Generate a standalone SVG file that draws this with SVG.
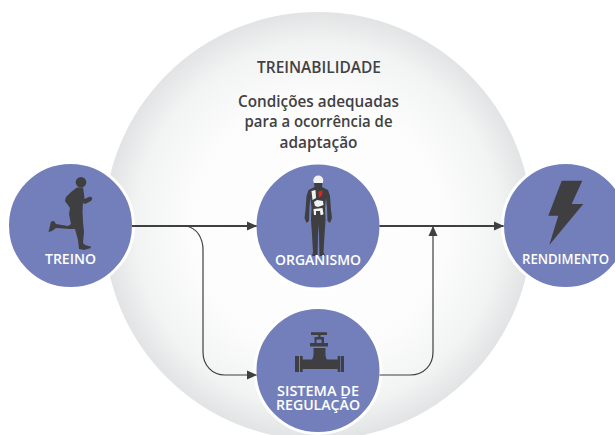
<svg xmlns="http://www.w3.org/2000/svg" width="615" height="435" viewBox="0 0 615 435">
<defs>
<radialGradient id="bg" gradientUnits="userSpaceOnUse" cx="318" cy="226" r="214">
<stop offset="0" stop-color="#ffffff"/><stop offset="0.6" stop-color="#fcfcfc"/><stop offset="0.85" stop-color="#f2f3f3"/><stop offset="1" stop-color="#e2e3e4"/>
</radialGradient>
<marker id="arrow" markerUnits="userSpaceOnUse" markerWidth="10" markerHeight="10" refX="9.5" refY="5" orient="auto"><path d="M0 0.5L10 5L0 9.5Z" fill="#3f3f41"/></marker>
</defs>
<style>
.node{fill:#737fbb;stroke:#fff;stroke-width:3}
.lbl{font-family:"Open Sans","Noto Sans",sans-serif;font-weight:600;font-size:14.500px;fill:#fff;text-anchor:middle}
.sm{font-size:14px}
.hd{font-family:"Open Sans","Noto Sans",sans-serif;font-weight:600;fill:#414143;text-anchor:middle;font-size:15.800px}
.ic{fill:#3f3f41}
.w{fill:#f2f2f2}
.c{fill:none;stroke:#3f3f41}
</style>
<rect width="615" height="435" fill="#fff"/>
<circle cx="318" cy="226" r="214" fill="url(#bg)"/>
<text class="hd" x="319" y="72.500" textLength="124" lengthAdjust="spacingAndGlyphs">TREINABILIDADE</text>
<text class="hd" x="318.500" y="106.500" textLength="161" lengthAdjust="spacingAndGlyphs">Condições adequadas</text>
<text class="hd" x="318.500" y="127" textLength="148" lengthAdjust="spacingAndGlyphs">para a ocorrência de</text>
<text class="hd" x="318.500" y="148" textLength="78" lengthAdjust="spacingAndGlyphs">adaptação</text>
<g id="treino">
<circle class="node" cx="70.500" cy="225.500" r="63"/>
<circle class="ic" cx="81" cy="182.300" r="5.300"/>
<path class="ic" d="M77 187.500L83 187.500L84 194L84.500 199L90 196.500L92.500 198L91 201L85 204L83 203L82.500 211L83 222L84 232L83 243L85 245L90.500 246.500L91 248L84 250L79 249L78 240L75 229L70 229L56 228L52 231L48.500 232L51 221.500L54 221L56 224L68 226L71 224L69 214L70 208L65 201L66 197L71 192Z"/>
<text class="lbl" x="70.500" y="264" textLength="51" lengthAdjust="spacingAndGlyphs">TREINO</text>
</g>
<g id="organismo">
<circle class="node" cx="318" cy="226" r="63"/>
<circle class="w" cx="318.300" cy="180.500" r="5"/>
<path class="ic" d="M314 183H322.500L322 187L328 190L330 196L331 210L332 218L330 223L327.500 221L327 207L326 198L325 208L325.500 220L324.500 235L323.500 252L325 256H319.500L319 235L318.500 224L318 235L317.500 256H312L313 252L312 235L311 220L311.500 208L310.500 198L309.500 207L309 221L306.500 223L304.500 218L305.500 210L306.500 196L308.500 190L314.500 187Z"/>
<path class="w" d="M311.500 191L315.500 190L316 198L312.500 200Z M314 202L317 200L323 201L323.500 205L318 207L315 206Z M313.500 209L322.500 208L323.500 214L322 215H320.500L320 211H316V215H314Z"/>
<path d="M318.500 191.500L322.500 190.500L322 195.500L319 197.500Z" fill="#e2231a"/>
<text class="lbl" x="318" y="265" textLength="86" lengthAdjust="spacingAndGlyphs">ORGANISMO</text>
</g>
<g id="sistema">
<circle class="node" cx="318" cy="370.500" r="63"/>
<path class="ic" d="M295 356H299V372H295Z M300 356H302.700V372H300Z M337.700 356H340.300V372H337.700Z M341 356H344V372H341Z M302.700 359.500H312C314 357 313.500 352 313.500 348H325.500C325.500 352 325 357 327 359.500H337.700V369H302.700Z M310 343H328V346.500H310Z M311 332.300H327V335H320.500V337H324V343H321.500V339.500H316.500V343H314.500V337H318.300V335H311Z"/>
<text class="lbl" x="318" y="396" textLength="82" lengthAdjust="spacingAndGlyphs">SISTEMA DE</text>
<text class="lbl" x="318" y="409.500" textLength="84" lengthAdjust="spacingAndGlyphs">REGULAÇÃO</text>
</g>
<g id="rendimento">
<circle class="node" cx="565.500" cy="225.500" r="63"/>
<path class="ic" d="M561.700 180.700H582.300L571.700 204H583.300L549.300 245L558.300 215.700H548.300Z"/>
<text class="lbl sm" x="565.500" y="264" textLength="87" lengthAdjust="spacingAndGlyphs">RENDIMENTO</text>
</g>
<g id="connectors">
<path class="c" stroke-width="2" d="M132 226H256.500" marker-end="url(#arrow)"/>
<path class="c" stroke-width="1.200" d="M186 226C197 228 203 238 203 250V352C203 365 212 375 225 375H256.500" marker-end="url(#arrow)"/>
<path class="c" stroke-width="2" d="M379.500 226H503.500" marker-end="url(#arrow)"/>
<path class="c" stroke-width="1.200" d="M379.500 375H410C424 375 433 365 433 352V226.500" marker-end="url(#arrow)"/>
</g>
</svg>
